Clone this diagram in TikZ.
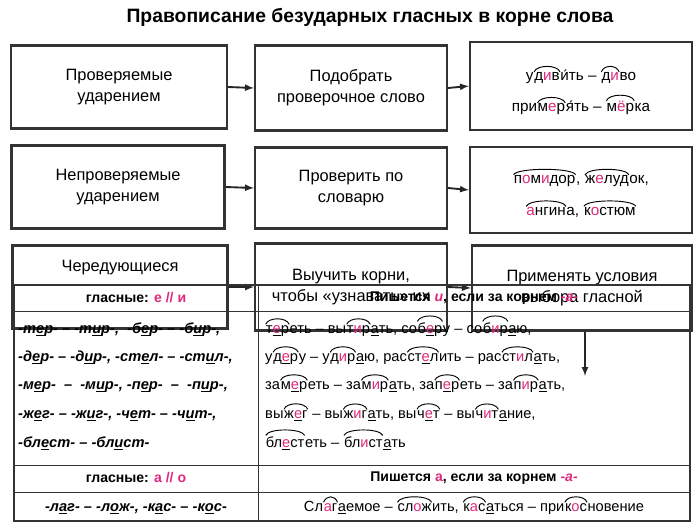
\documentclass[tikz,border=0pt]{standalone}
\usepackage{fontspec}
\setmainfont{Liberation Sans}
\definecolor{pinky}{RGB}{222,40,125}
\newcommand{\pk}[1]{\textcolor{pinky}{#1}}
\newcommand{\ul}[1]{\underline{#1}}
\newcommand{\rt}[1]{\tikz[baseline=(r.base)]{\node[draw=none,inner sep=0pt,minimum size=0pt,align=none](r){#1};
  \draw[line width=0.8pt,black] ([yshift=0.5pt]r.north west) .. controls +(0.08cm,0.22cm) and +(-0.08cm,0.22cm) .. ([yshift=0.5pt]r.north east);}}
\tikzset{
  box/.style={draw=black!80,line width=1.8pt,inner sep=0pt,align=center,font=\fontsize{14}{18}\selectfont},
  arr/.style={-latex,line width=1.6pt,black!85},
  cell/.style={anchor=base west,inner sep=0pt,font=\fontsize{12.5}{15}\selectfont},
  ex/.style={inner sep=0pt,font=\fontsize{13}{15}\selectfont}
}
\begin{document}
\begin{tikzpicture}[x=0.03cm,y=-0.03cm]
  \useasboundingbox (0,0) rectangle (700,528);
  \node[font=\bfseries\fontsize{16.5}{19}\selectfont] (title) at (370,17) {Правописание безударных гласных в корне слова};
  % first column
  \node[box,minimum width=216*0.03cm,minimum height=83*0.03cm] (a1) at (119,87) {Проверяемые\\ударением};
  \node[box,minimum width=213*0.03cm,minimum height=83*0.03cm] (a2) at (118,187) {Непроверяемые\\ударением};
  \node[box,minimum width=215*0.03cm,minimum height=83*0.03cm] (a3) at (120,287) {Чередующиеся\\[18pt]};
  % second column
  \node[box,minimum width=192*0.03cm,minimum height=85*0.03cm] (b1) at (351,88) {Подобрать\\проверочное слово};
  \node[box,minimum width=192*0.03cm,minimum height=81*0.03cm] (b2) at (351,188) {Проверить по\\словарю};
  \node[box,minimum width=192*0.03cm,minimum height=87*0.03cm] (b3) at (351,287) {Выучить корни,\\чтобы «узнавать» их};
  % third column
  \node[box,minimum width=222*0.03cm,minimum height=88*0.03cm] (c1) at (581,86) {};
  \node[ex] (c1a) at (581,74) {у\rt{д\pk{и}в}и́ть -- \rt{д\pk{и}}во};
  \node[ex] (c1b) at (581,104) {при\rt{м\pk{е}р}я́ть -- \rt{м\pk{ё}р}ка};
  \node[box,minimum width=222*0.03cm,minimum height=86*0.03cm] (c2) at (581,190) {};
  \node[ex] (c2a) at (581,177) {\rt{п\pk{о}м\pk{и}дор}, \rt{ж\pk{е}луд}ок,};
  \node[ex] (c2b) at (581,208) {\rt{\pk{а}нгин}а, \rt{к\pk{о}стюм}};
  \node[box,minimum width=220*0.03cm,minimum height=85*0.03cm] (c3) at (582,288) {Применять условия\\выбора гласной};
  \coordinate (down) at (585,376);
  \foreach \p/\q in {a1/b1,b1/c1,a2/b2,b2/c2,a3/b3,b3/c3}
    \draw[arr] (\p.east) -- (\q.west);
  \draw[arr] (c3.south -| down) -- (down);
  % table
  \draw[line width=1.6pt,black!80] (14,285) rectangle (690,521);
  \draw[line width=0.8pt,black!80] (258,285) -- (258,521);
  \foreach \y in {311,465,492}
    \draw[line width=0.8pt,black!80] (14,\y) -- (690,\y);
  \node[font=\bfseries\fontsize{12}{14}\selectfont] (h1) at (136,298) {гласные: \pk{е // и}};
  \node[font=\bfseries\fontsize{12}{14}\selectfont] (h2) at (474,298) {Пишется \pk{\itshape и}, если за корнем \pk{\itshape -а-}};
  \node[font=\bfseries\fontsize{12}{14}\selectfont] (h3) at (136,478) {гласные: \pk{а // о}};
  \node[font=\bfseries\fontsize{12}{14}\selectfont] (h4) at (474,478) {Пишется \pk{а}, если за корнем \pk{\itshape -а-}};
  \begin{scope}[every node/.style={cell,font=\bfseries\itshape\fontsize{12.5}{15}\selectfont}]
    \node (l1) at (18,333) {-т\ul{е}р- -- -т\ul{и}р-,\ \ -б\ul{е}р- -- -б\ul{и}р-,};
    \node (l2) at (18,361) {-д\ul{е}р- -- -д\ul{и}р-,\ -ст\ul{е}л- -- -ст\ul{и}л-,};
    \node (l3) at (18,389) {-м\ul{е}р- \ -- \ -м\ul{и}р-, -п\ul{е}р- \ -- \ -п\ul{и}р-,};
    \node (l4) at (18,418) {-ж\ul{е}г- -- -ж\ul{и}г-, -ч\ul{е}т- -- -ч\ul{и}т-,};
    \node (l5) at (18,447) {-бл\ul{е}ст- -- -бл\ul{и}ст-};
    \node[anchor=base] (l6) at (136,511) {-л\ul{а}г- -- -л\ul{о}ж-, -к\ul{а}с- -- -к\ul{о}с-};
  \end{scope}
  \begin{scope}[every node/.style={cell}]
    \node (r1) at (265,333) {\rt{т\ul{\pk{е}}р}еть -- вы\rt{т\pk{и}р}\ul{а}ть, со\rt{б\ul{\pk{е}}р}у -- со\rt{б\pk{и}р}\ul{а}ю,};
    \node (r2) at (265,361) {у\rt{д\ul{\pk{е}}р}у -- у\rt{д\pk{и}р}\ul{а}ю, рас\rt{ст\ul{\pk{е}}л}ить -- рас\rt{ст\pk{и}л}\ul{а}ть,};
    \node (r3) at (265,389) {за\rt{м\ul{\pk{е}}р}еть -- за\rt{м\pk{и}р}\ul{а}ть, за\rt{п\ul{\pk{е}}р}еть -- за\rt{п\pk{и}р}\ul{а}ть,};
    \node (r4) at (265,418) {вы\rt{ж\ul{\pk{е}}г} -- вы\rt{ж\pk{и}г}\ul{а}ть, вы\rt{ч\ul{\pk{е}}т} -- вы\rt{ч\pk{и}т}\ul{а}ние,};
    \node (r5) at (265,447) {\rt{бл\ul{\pk{е}}ст}еть -- \rt{бл\pk{и}ст}\ul{а}ть};
    \node[anchor=base] (r6) at (474,511) {Сл\rt{\pk{а}г}\ul{а}емое -- \rt{сл\pk{о}ж}ить, \rt{к\pk{а}с}\ul{а}ться -- при\rt{к\pk{о}с}новение};
  \end{scope}
\end{tikzpicture}
\end{document}
